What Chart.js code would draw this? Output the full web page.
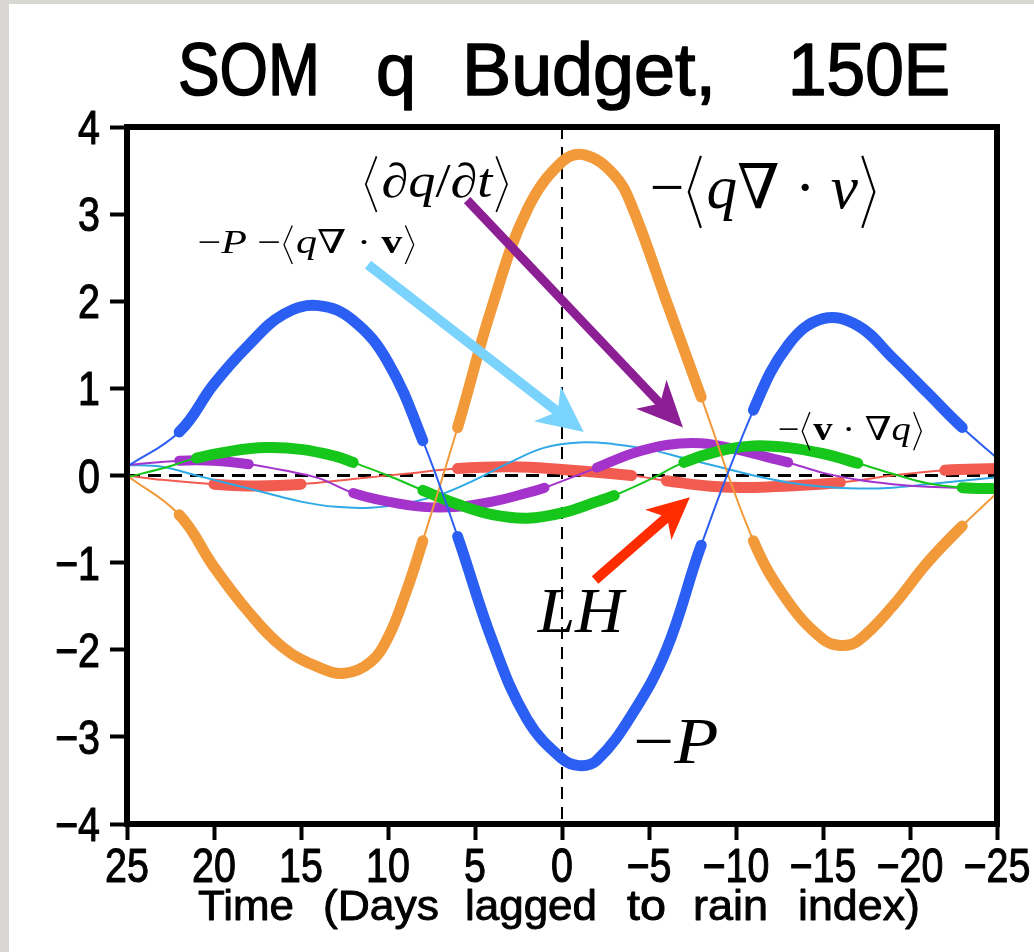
<!DOCTYPE html>
<html><head><meta charset="utf-8">
<script src="https://cdn.jsdelivr.net/npm/chart.js@4.4.1/dist/chart.umd.min.js"></script>
<style>
html,body{margin:0;padding:0;background:#d9d7d3;overflow:hidden}
#wrap{position:absolute;left:0;top:0;width:1034px;height:952px}
</style>
</head><body><div id="wrap"><canvas id="c"></canvas></div>
<script>
// ---- tick labels ----
const xTicks = [25,20,15,10,5,0,-5,-10,-15,-20,-25];
const xTickLabels = ['25','20','15','10','5','0','\u22125','\u221210','\u221215','\u221220','\u221225'];
const yTicks = [4,3,2,1,0,-1,-2,-3,-4];
const yTickLabels = ['4','3','2','1','0','\u22121','\u22122','\u22123','\u22124'];

// ---- series: -P (blue) ----
const pDays = [25,22,20,18,16,14,12,10,8,6,4,2,0,-1,-2,-4,-6,-8,-11,-13,-15,-17,-19,-21,-23,-25];
const pVals = [0.1,0.5,1.05,1.5,1.85,1.95,1.78,1.3,0.4,-0.7,-1.9,-2.8,-3.25,-3.33,-3.27,-2.75,-2.0,-0.8,0.75,1.5,1.8,1.72,1.35,0.95,0.55,0.2];
const pSig  = [0,1,1,1,1,1,1,1,0,1,1,1,1,1,1,1,1,0,1,1,1,1,1,1,0];

// ---- -<q div v> (orange) ----
const qdDays = [25,22,20,18,16,14,12.5,11,10,9,8,6,4,2,0,-1.3,-3,-4,-6,-8,-11,-13,-15,-16,-17,-19,-21,-23,-25];
const qdVals = [0,-0.45,-1.05,-1.57,-1.98,-2.2,-2.27,-2.14,-1.86,-1.36,-0.75,0.55,1.95,3.05,3.6,3.68,3.45,3.1,2.0,0.9,-0.75,-1.45,-1.88,-1.95,-1.9,-1.5,-1.0,-0.58,-0.2];
const qdSig  = [0,1,1,1,1,1,1,1,1,1,0,1,1,1,1,1,1,1,1,0,1,1,1,1,1,1,1,0];

// ---- -<v . grad q> (green) ----
const vgDays = [25,23,21,19,17,15,13,12,10,8,6,4,2,0,-2,-3,-5,-7,-9,-11,-13,-15,-17,-19,-21,-23,-25];
const vgVals = [-0.02,0.08,0.2,0.28,0.32,0.3,0.22,0.15,0.0,-0.17,-0.33,-0.45,-0.49,-0.43,-0.3,-0.23,-0.05,0.15,0.28,0.34,0.32,0.25,0.14,0.02,-0.09,-0.14,-0.15];
const vgSig  = [0,0,1,1,1,1,1,0,0,1,1,1,1,1,1,0,0,1,1,1,1,1,0,0,0,1];

// ---- <dq/dt> (purple) ----
const dqDays = [25,22,20,18,16,14,12,10,8,6,4,2,1,-2,-4,-6,-8,-10,-12,-13,-15,-17,-19,-21,-23,-25];
const dqVals = [0.12,0.17,0.17,0.13,0.06,-0.03,-0.2,-0.3,-0.36,-0.36,-0.3,-0.2,-0.14,0.09,0.25,0.35,0.37,0.3,0.2,0.15,0.03,-0.05,-0.1,-0.13,-0.14,-0.14];
const dqSig  = [0,1,1,0,0,0,1,1,1,1,1,1,0,1,1,1,1,1,1,0,0,0,0,0,0];

// ---- -P - <q div v> (cyan) ----
const sumDays = [25,23,21,19,17,15,13,11,9,7,5,3,1,-1,-3,-5,-7,-9,-11,-13,-15,-17,-19,-21,-23,-25];
const sumVals = [0.12,0.1,0.0,-0.1,-0.2,-0.3,-0.36,-0.37,-0.32,-0.22,-0.05,0.15,0.32,0.38,0.36,0.3,0.2,0.1,0.0,-0.08,-0.13,-0.15,-0.14,-0.1,-0.06,-0.02];

// ---- LH (red) ----
const lhDays = [25,23,20,17.5,15,12,9,6,3,0,-4,-6,-9,-12,-16,-19,-22,-25];
const lhVals = [0.0,-0.05,-0.1,-0.12,-0.1,-0.04,0.02,0.08,0.1,0.07,0.0,-0.06,-0.13,-0.13,-0.08,0.0,0.06,0.08];
const lhSig  = [0,0,1,1,0,0,0,1,1,1,0,1,1,1,0,0,1];

const THICK = 11, THIN = 2;
function series(label, days, vals, sig, color, thick){
  return {
    label, borderColor: color, backgroundColor: color,
    data: days.map((d,i)=>({x:d, y:vals[i]})),
    borderWidth: THIN, pointRadius: 0, fill: false,
    tension: 0.4,
    borderCapStyle: 'round', borderJoinStyle: 'round',
    segment: { borderWidth: ctx => (sig && sig[ctx.p0DataIndex]) ? (thick||THICK) : THIN }
  };
}

const datasets = [
  series('-P', pDays, pVals, pSig, '#2b5ef2'),
  series('-<q div v>', qdDays, qdVals, qdSig, '#f2993a'),
  series('-<v grad q>', vgDays, vgVals, vgSig, '#16c61a'),
  series('<dq/dt>', dqDays, dqVals, dqSig, '#a333cb', 10),
  series('-P-<q div v>', sumDays, sumVals, null, '#2fa9e6'),
  series('LH', lhDays, lhVals, lhSig, '#f25b50', 11)
];

function heavyText(ctx, text, x, y, sw){
  ctx.fillText(text, x, y);
  ctx.lineWidth = sw; ctx.lineJoin = 'round'; ctx.strokeStyle = '#000';
  ctx.strokeText(text, x, y);
}
function drawFit(ctx, text, font, left, baseline, width, sw){
  ctx.font = font;
  const w = ctx.measureText(text).width;
  ctx.save(); ctx.translate(left, baseline); ctx.scale(width / w, 1);
  ctx.textAlign = 'left'; ctx.textBaseline = 'alphabetic';
  heavyText(ctx, text, 0, 0, sw); ctx.restore();
}
const SERIF = '"Liberation Serif","DejaVu Serif",serif';
function fontOf(st, size){
  if (st === 'i') return 'italic ' + size + 'px ' + SERIF;
  if (st === 'b') return 'bold ' + size + 'px ' + SERIF;
  return size + 'px ' + SERIF;
}
function pieceWidth(ctx, p, size){
  if (p[1] === 'L' || p[1] === 'R') return size * 0.36;
  ctx.font = fontOf(p[1], size); return ctx.measureText(p[0]).width;
}
function drawRich(ctx, pieces, size, left, baseline, width){
  let total = 0;
  pieces.forEach(p => { total += pieceWidth(ctx, p, size); });
  const sx = width / total;
  ctx.save(); ctx.translate(left, baseline);
  ctx.textAlign = 'left'; ctx.textBaseline = 'alphabetic'; ctx.fillStyle = '#000'; ctx.strokeStyle = '#000';
  let x = 0;
  pieces.forEach(p => {
    const w = pieceWidth(ctx, p, size);
    if (p[1] === 'L' || p[1] === 'R') {
      const top = -size * 0.84, bot = size * 0.32, mid = (top + bot) / 2;
      const x0 = (x + w * 0.2) * sx, x1 = (x + w * 0.75) * sx;
      ctx.lineWidth = Math.max(1.3, size * 0.035);
      ctx.beginPath();
      if (p[1] === 'L') { ctx.moveTo(x1, top); ctx.lineTo(x0, mid); ctx.lineTo(x1, bot); }
      else { ctx.moveTo(x0, top); ctx.lineTo(x1, mid); ctx.lineTo(x0, bot); }
      ctx.stroke();
    } else {
      ctx.save(); ctx.scale(sx, 1); ctx.font = fontOf(p[1], size); ctx.fillText(p[0], x, 0); ctx.restore();
    }
    x += w;
  });
  ctx.restore();
}
function arrow(ctx, x1, y1, x2, y2, color, lw, hl, hw){
  const dx = x2-x1, dy = y2-y1, L = Math.hypot(dx,dy), ux = dx/L, uy = dy/L, px = -uy, py = ux;
  const nx = x2 - ux*hl*0.72, ny = y2 - uy*hl*0.72;
  ctx.save(); ctx.strokeStyle = color; ctx.fillStyle = color; ctx.lineWidth = lw; ctx.lineCap = 'butt';
  ctx.beginPath(); ctx.moveTo(x1,y1); ctx.lineTo(nx+ux*2, ny+uy*2); ctx.stroke();
  ctx.beginPath(); ctx.moveTo(x2,y2);
  ctx.lineTo(x2 - ux*hl + px*hw/2, y2 - uy*hl + py*hw/2);
  ctx.lineTo(nx, ny);
  ctx.lineTo(x2 - ux*hl - px*hw/2, y2 - uy*hl - py*hw/2);
  ctx.closePath(); ctx.fill(); ctx.restore();
}

// annotation anchors in data units (day, value)
const arrows = [
  {from:[11.15,2.42], to:[-1.25,0.5], color:'#79d3fc', lw:10, hl:46, hw:44},
  {from:[5.45,3.16], to:[-6.95,0.55], color:'#8d1f94', lw:9, hl:46, hw:42},
  {from:[-1.9,-1.2], to:[-7.35,-0.25], color:'#ff2c00', lw:10, hl:42, hw:40}
];

const bgPlugin = {
  id: 'bg',
  beforeDraw(c){ const ctx = c.ctx; ctx.save(); ctx.fillStyle = '#ffffff'; ctx.fillRect(9, 4, 1034, 952); ctx.restore(); }
};
const refPlugin = {
  id: 'ref',
  beforeDatasetsDraw(c){
    const ctx = c.ctx, xs = c.scales.x, ys = c.scales.y, a = c.chartArea;
    ctx.save(); ctx.strokeStyle = '#000';
    ctx.lineWidth = 3; ctx.setLineDash([13, 8]);
    const y0 = ys.getPixelForValue(0);
    ctx.beginPath(); ctx.moveTo(a.left, y0); ctx.lineTo(a.right, y0); ctx.stroke();
    ctx.lineWidth = 2; ctx.setLineDash([12, 8]);
    const x0 = xs.getPixelForValue(0);
    ctx.beginPath(); ctx.moveTo(x0, a.top); ctx.lineTo(x0, a.bottom); ctx.stroke();
    ctx.restore();
  }
};
const SANS = '"Liberation Sans",Arial,sans-serif';
const decoPlugin = {
  id: 'deco',
  afterDraw(c){
    const ctx = c.ctx, xs = c.scales.x, ys = c.scales.y, a = c.chartArea;
    ctx.save();
    // frame
    ctx.strokeStyle = '#000'; ctx.lineWidth = 6;
    ctx.strokeRect(a.left, a.top, a.right - a.left, a.bottom - a.top);
    ctx.fillStyle = '#000';
    // tick labels
    ctx.font = '48px ' + SANS; const sx = 0.82;
    ctx.textBaseline = 'alphabetic';
    xTicks.forEach((t,i) => {
      const px = xs.getPixelForValue(t);
      ctx.save(); ctx.translate(px, 882); ctx.scale(sx,1); ctx.textAlign = 'center';
      heavyText(ctx, xTickLabels[i], 0, 0, 1.1); ctx.restore();
    });
    yTicks.forEach((t,i) => {
      const py = ys.getPixelForValue(t);
      ctx.save(); ctx.translate(100, py + 17); ctx.scale(sx,1); ctx.textAlign = 'right';
      heavyText(ctx, yTickLabels[i], 0, 0, 1.1); ctx.restore();
    });
    // axis title
    const af = '42px ' + SANS;
    [['Time',198,294],['(Days',323,439],['lagged',465,597],['to',627,666],['rain',693,768],['index)',798,920]]
      .forEach(w => drawFit(ctx, w[0], af, w[1], 920, w[2]-w[1], 0.9));
    // chart title
    const ttf = '74px ' + SANS;
    [['SOM',178,320],['q',376,416],['Budget,',462,716],['150E',788,950]]
      .forEach(w => drawFit(ctx, w[0], ttf, w[1], 95, w[2]-w[1], 1.6));
    // arrows
    arrows.forEach(ar => arrow(ctx, xs.getPixelForValue(ar.from[0]), ys.getPixelForValue(ar.from[1]),
      xs.getPixelForValue(ar.to[0]), ys.getPixelForValue(ar.to[1]), ar.color, ar.lw, ar.hl, ar.hw));
    // math labels
    const L = (d) => xs.getPixelForValue(d), B = (v) => ys.getPixelForValue(v);
    drawRich(ctx, [['<','L'],['\u2202','n'],['q','i'],['/','n'],['\u2202','n'],['t','i'],['>','R']], 48, L(11.5), B(3.2), 150);
    drawRich(ctx, [['\u2212','n'],['<','L'],['q','i'],['\u2207','n'],[' \u00B7 ','n'],['v','i'],['>','R']], 62, L(-5.05), B(3.07), 230);
    drawRich(ctx, [['\u2212','n'],['P','i'],[' \u2212','n'],['<','L'],['q','i'],['\u2207','n'],[' \u00B7 ','n'],['v','b'],['>','R']], 33, L(20.95), B(2.55), 220);
    drawRich(ctx, [['\u2212','n'],['<','L'],['v','b'],[' \u00B7 ','n'],['\u2207','n'],['q','i'],['>','R']], 33, L(-12.4), B(0.41), 147);
    drawRich(ctx, [['LH','i']], 64, L(1.4), B(-1.8), 86);
    drawRich(ctx, [['\u2212','n'],['P','i']], 66, L(-4.1), B(-3.3), 85);
    ctx.restore();
  }
};

new Chart(document.getElementById('c'), {
  type: 'line',
  data: { datasets },
  options: {
    responsive: true, maintainAspectRatio: false, animation: false,
    layout: { padding: { left: 0, right: 37, top: 127, bottom: 0 } },
    plugins: { legend: { display: false }, tooltip: { enabled: false }, title: { display: false } },
    scales: {
      x: {
        type: 'linear', min: -25, max: 25, reverse: true,
        ticks: { display: false, stepSize: 5 },
        grid: { display: true, drawOnChartArea: false, drawTicks: true, tickLength: 16, tickWidth: 4, tickColor: '#000', color: '#000' },
        border: { display: false },
        afterFit(s){ s.height = 128; }
      },
      y: {
        min: -4, max: 4,
        ticks: { display: false, stepSize: 1 },
        grid: { display: true, drawOnChartArea: false, drawTicks: true, tickLength: 17, tickWidth: 4, tickColor: '#000', color: '#000' },
        border: { display: false },
        afterFit(s){ s.width = 127; }
      }
    }
  },
  plugins: [bgPlugin, refPlugin, decoPlugin]
});
</script>
</body></html>
